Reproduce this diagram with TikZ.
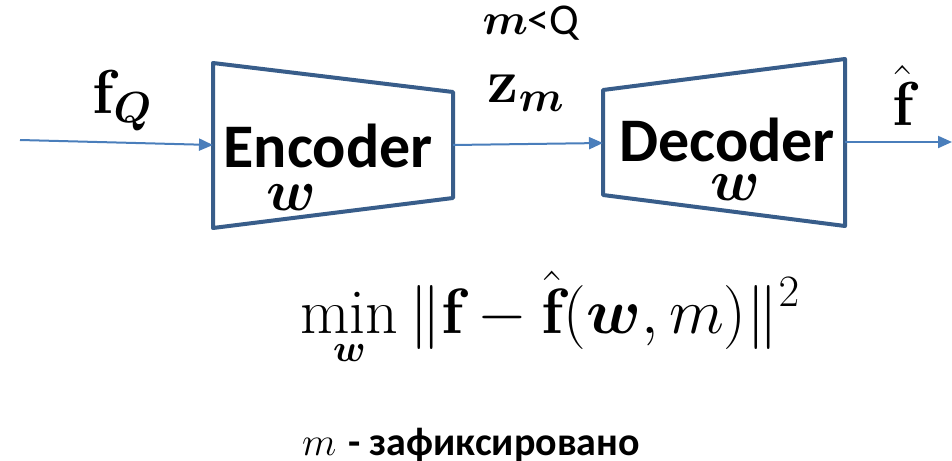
\documentclass[tikz,border=0pt]{standalone}
\usepackage{fix-cm}
\usepackage{amsmath,bm}
\usepackage{fontspec}
\newfontfamily\calib{Carlito}
\usetikzlibrary{arrows.meta}
\definecolor{boxline}{HTML}{385D8A}
\definecolor{wire}{HTML}{4A7EBB}
\tikzset{
  block/.style={draw=boxline, line width=4pt, line join=round},
  wireline/.style={draw=wire, line width=2pt, -{Triangle[length=14pt,width=12pt]}},
  txt/.style={inner sep=0pt, anchor=base},
  blocktitle/.style={txt, font=\calib\bfseries\fontsize{62}{70}\selectfont},
  weight/.style={txt, font=\fontsize{58}{66}\selectfont},
  siglabel/.style={txt, font=\fontsize{62}{70}\selectfont},
}
% bold upright letter taken from the text font
\newcommand{\bvec}[1]{\text{\bfseries #1}}
% subscript under "min", set lower and at a fixed size
\newcommand{\minsub}[1]{\raisebox{-14pt}{\fontsize{38}{38}\selectfont$#1$}}
\begin{document}
\begin{tikzpicture}[x=1pt,y=-1pt]
\useasboundingbox (0,0) rectangle (952,460);

% encoder and decoder blocks
\draw[block] (213,63) -- (453,92) -- (453,198) -- (213,228) -- cycle;
\draw[block] (603,90) -- (845,59) -- (845,226) -- (603,195) -- cycle;

% ports on the block edges
\coordinate (src)    at (20,140);
\coordinate (encin)  at (213,145);
\coordinate (encout) at (453,145);
\coordinate (decin)  at (603,143);
\coordinate (decout) at (845,142);
\coordinate (sink)   at (952,142);

% signal flow
\draw[wireline] (src) -- (encin);
\draw[wireline] (encout) -- (decin);
\draw[wireline] (decout) -- (sink);

% block captions
\node[blocktitle] (enc) at (328,167) {Encoder};
\node[weight] (encw) at (291,210) {$\bm{w}$};
\node[blocktitle] (dec) at (727,161) {Decoder};
\node[weight] (decw) at (735,200) {$\bm{w}$};

% signal labels
\node[siglabel] (fq) at (122,113) {$\bvec{f}_{\bm{Q}}$};
\node[siglabel] (zm) at (526,102) {$\bvec{z}_{\bm{m}}$};
\node[siglabel] (fhat) at (903,125) {$\hat{\bvec{f}}$};
\node[txt, font=\fontsize{44}{50}\selectfont] (mq) at (531,35) {$\bm{m}${\calib<Q}};

% objective
\node[txt, font=\fontsize{64}{72}\selectfont] (obj) at (550,333)
  {$\displaystyle\min_{\minsub{\bm{w}}}\|\bvec{f}-\hat{\bvec{f}}(\bm{w},m)\|^2$};
\node[txt, font=\fontsize{40}{46}\selectfont] (fixed) at (471,455)
  {$m$ {\calib\bfseries - зафиксировано}};
\end{tikzpicture}
\end{document}
